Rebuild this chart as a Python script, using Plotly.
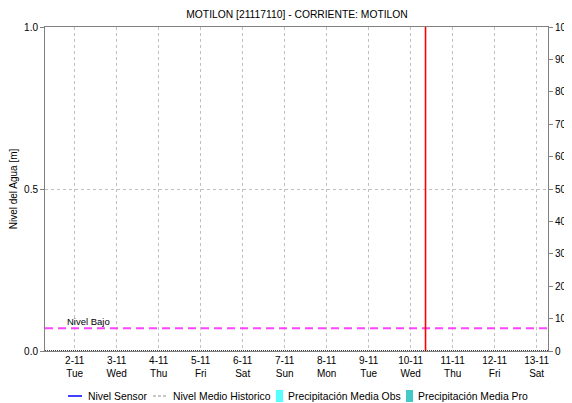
import plotly.graph_objects as go

# data
titulo = "MOTILON [21117110] - CORRIENTE: MOTILON"
dias = ["2010-11-%02d" % d for d in range(2, 14)]
etiquetas = ["2-11<br>Tue", "3-11<br>Wed", "4-11<br>Thu", "5-11<br>Fri", "6-11<br>Sat",
             "7-11<br>Sun", "8-11<br>Mon", "9-11<br>Tue", "10-11<br>Wed", "11-11<br>Thu",
             "12-11<br>Fri", "13-11<br>Sat"]
rango_x = ["2010-11-01 07:00", "2010-11-13 06:30"]
ahora = "2010-11-10 08:30"
ahora_x = [ahora, ahora]
ahora_y = [0, 1]
nivel_bajo = 0.07
nivel_bajo_y = [nivel_bajo, nivel_bajo]
series = ["Nivel Sensor", "Nivel Medio Historico", "Precipitación Media Obs", "Precipitación Media Pro"]
colores = ["#0000ff", "#c8c8c8", "#55ffff", "#44c8c8"]

fuente = "Liberation Sans, Arial, sans-serif"
OFF = 8  # page body margin
W, H = 572 - OFF, 403 - OFF
L, R, T, B = 45 - OFF, 24, 27 - OFF, 52
pw, ph = W - L - R, H - T - B


def px(x):
    return (x - OFF - L) / pw


def py(y):
    return (H - B - (y - OFF)) / ph


fig = go.Figure()

fig.add_trace(go.Scatter(x=[], y=[], mode="lines", name=series[0],
                         line=dict(color=colores[0], width=1.5)))
fig.add_trace(go.Scatter(x=[], y=[], mode="lines", name=series[1],
                         line=dict(color=colores[1], width=2, dash="3px,3px")))
fig.add_trace(go.Bar(x=[], y=[], name=series[2], marker_color=colores[2], yaxis="y2"))
fig.add_trace(go.Bar(x=[], y=[], name=series[3], marker_color=colores[3], yaxis="y2"))
fig.add_trace(go.Scatter(x=rango_x, y=nivel_bajo_y, mode="lines", showlegend=False,
                         line=dict(color="#ff44ff", width=2, dash="8px,5px"), hoverinfo="skip"))
fig.add_trace(go.Scatter(x=ahora_x, y=ahora_y, mode="lines", showlegend=False,
                         line=dict(color="rgb(255,0,0)", width=1.6), hoverinfo="skip"))

# bottom dotted line
fig.add_shape(type="line", xref="paper", yref="y", x0=0, x1=1, y0=0, y1=0,
              line=dict(color="black", width=1.5, dash="1px,1px"))
fig.add_annotation(x=rango_x[0], y=nivel_bajo, text="Nivel Bajo", xref="x", yref="y",
                   showarrow=False, xanchor="left", yanchor="bottom", xshift=20, yshift=-1,
                   font=dict(family=fuente, size=9.5, color="black"))

# custom legend row
ly = 396
items = [(68, 82, 86, "line"), (153, 168, 171, "dot"), (276, 283, 286, "box"), (406, 413, 416, "box")]
for (a, b, t, kind), nombre, col in zip(items, series, colores):
    if kind == "box":
        fig.add_shape(type="rect", xref="paper", yref="paper", x0=px(a), x1=px(b),
                      y0=py(ly + 6), y1=py(ly - 6), fillcolor=col, line_width=0)
    else:
        fig.add_shape(type="line", xref="paper", yref="paper", x0=px(a), x1=px(b),
                      y0=py(ly), y1=py(ly),
                      line=dict(color=col, width=2 if kind == "dot" else 1.5,
                                dash="3px,2px" if kind == "dot" else "solid"))
    fig.add_annotation(x=px(t), y=py(ly), xref="paper", yref="paper", text=nombre,
                       showarrow=False, xanchor="left", yanchor="middle",
                       font=dict(family=fuente, size=10.4, color="black"))

fig.update_layout(
    width=W, height=H,
    margin=dict(l=L, r=R, t=T, b=B, autoexpand=False),
    paper_bgcolor="white", plot_bgcolor="white",
    font=dict(family=fuente, size=10, color="black"),
    title=dict(text=titulo, x=(297 - OFF) / W, xanchor="center",
               y=1 - (14 - OFF) / H, yanchor="middle",
               font=dict(family=fuente, size=10.3, color="black")),
    showlegend=False,
    xaxis=dict(type="date", range=rango_x, tickvals=dias, ticktext=etiquetas, ticks="",
               showgrid=True, gridcolor="#c0c0c0", griddash="3px,3px", gridwidth=1,
               showline=True, linecolor="#808080", mirror=True, zeroline=False,
               tickfont=dict(size=10)),
    yaxis=dict(range=[0, 1], tickvals=[0, 0.5, 1], ticktext=["0.0", "0.5", "1.0"],
               ticks="outside", ticklen=4, tickcolor="#808080",
               showgrid=True, gridcolor="#c0c0c0", griddash="3px,3px",
               showline=True, linecolor="#808080", zeroline=False,
               title=dict(text="Nivel del Agua [m]", standoff=10, font=dict(size=10))),
    yaxis2=dict(range=[0, 100], dtick=10, overlaying="y", side="right",
                ticks="outside", ticklen=4, tickcolor="#808080",
                showgrid=False, showline=True, linecolor="#808080", zeroline=False),
)

fig.write_html("out.html")
